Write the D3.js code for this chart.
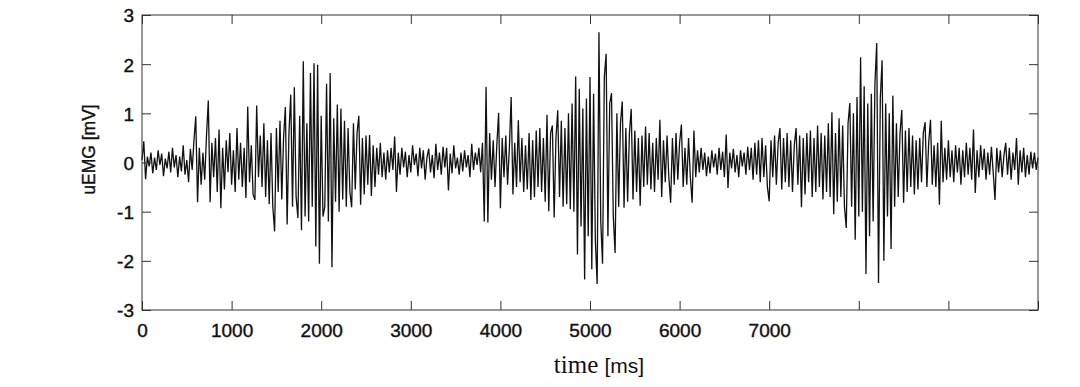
<!DOCTYPE html>
<html>
<head>
<meta charset="utf-8">
<script src="https://cdn.jsdelivr.net/npm/d3@7"></script>
<style>
body { margin:0; background:#fff; }
svg text { font-family: "Liberation Sans", Arial, sans-serif; fill:#111; }
</style>
</head>
<body>
<svg id="chart" width="1080" height="387"></svg>
<script>
// sampling step of the recording (ms)
var sampleStep = 20;
var xTicks = [0,1000,2000,3000,4000,5000,6000,7000,8000,9000,10000];
var xTickLabels = ["0","1000","2000","3000","4000","5000","6000","7000","","",""];
var yTicks = [-3,-2,-1,0,1,2,3];

// uEMG amplitude, mV, one value per 20 ms
var emg = [
 0.05,0.43,-0.34,0.12,-0.08,0.2,-0.22,0.1,-0.15,0.25,-0.05,0.18,-0.28,0.08,-0.12,0.22,-0.2,0.3,-0.1,0.15,
 -0.3,0.12,-0.18,0.35,-0.25,0.05,-0.4,0.28,-0.15,0.45,0.94,-0.81,0.3,-0.45,0.2,-0.35,0.55,1.26,-0.81,0.4,
 -0.3,0.5,-0.6,0.67,-0.93,0.3,-0.55,0.45,-0.2,0.6,-0.45,0.25,-0.6,0.7,-0.35,0.4,-0.5,0.3,-0.72,1.14,
 -0.4,0.35,-0.65,-0.76,1.16,-0.3,0.55,-0.5,0.8,-0.7,0.45,-0.85,0.6,-0.9,-1.4,0.7,-0.6,0.85,-0.75,0.5,
 1.13,-1.26,0.6,1.38,-0.9,1.53,-0.7,-1.13,0.95,-1.38,2.06,-1.1,0.8,-1.2,1.82,-0.9,2.02,-1.71,1.99,-2.06,
 0.95,-1.1,-0.9,1.6,-1.2,1.82,-2.13,0.9,-0.8,1.18,-1.0,1.1,-0.75,0.85,-0.9,0.7,-0.6,-0.91,0.8,-0.55,
 0.6,0.95,-0.86,0.5,-0.65,0.55,-0.45,0.56,-0.68,0.35,-0.5,0.3,-0.25,0.4,-0.3,0.2,-0.35,0.25,-0.2,0.3,
 -0.15,0.53,-0.6,0.2,-0.25,0.3,-0.1,0.22,-0.3,0.15,-0.2,0.35,-0.05,0.18,-0.28,0.3,-0.12,0.25,-0.35,0.1,
 0.28,-0.2,0.15,-0.32,0.38,-0.15,0.2,-0.25,0.32,-0.1,0.3,-0.57,0.18,-0.22,0.35,-0.12,0.1,-0.25,0.2,-0.18,
 0.25,-0.1,0.15,-0.3,0.38,-0.15,0.2,-0.05,0.3,-0.2,0.4,-1.2,1.54,-1.22,0.6,-0.35,0.45,-0.5,0.35,1.01,
 -0.93,0.5,-0.3,0.55,-0.45,0.3,1.33,-0.65,0.4,-0.5,0.86,-0.4,0.5,-0.6,0.35,-0.55,0.6,-0.76,0.45,-0.7,
 0.65,-0.5,0.7,-0.6,0.5,-0.8,0.97,-0.99,0.6,0.75,-1.12,0.5,1.06,-0.7,0.85,-0.9,0.7,-0.85,1.0,-0.95,
 1.2,-1.0,1.75,-1.87,1.5,-1.3,1.1,-2.38,1.3,-1.5,1.74,-2.17,1.4,-1.6,-2.47,2.65,-1.2,-2.06,1.74,2.21,
 -1.5,1.2,1.41,-1.1,-1.84,1.0,-0.9,0.8,1.24,-0.92,0.7,-0.8,0.6,1.09,-0.75,0.65,-0.6,0.5,-0.88,0.55,
 -0.5,0.73,-0.45,0.6,-0.55,0.4,-0.6,0.5,-0.35,0.87,-0.7,0.45,-0.4,0.55,-0.3,-0.82,0.5,-0.45,0.6,-0.35,
 0.4,0.77,-0.5,0.3,-0.45,0.5,-0.3,-0.82,0.65,-0.3,0.25,-0.2,0.3,-0.15,0.2,-0.28,0.12,-0.22,0.25,-0.1,
 0.18,-0.25,0.3,-0.15,0.22,-0.3,0.57,-0.52,0.2,-0.12,0.28,-0.2,0.15,-0.3,0.25,-0.08,0.2,-0.25,0.32,-0.15,
 0.3,-0.35,0.4,-0.25,0.45,-0.4,0.5,-0.3,0.35,-0.5,-0.79,0.45,-0.3,0.55,-0.45,0.4,0.7,-0.55,0.5,-0.4,
 0.6,-0.5,0.45,-0.6,0.35,0.7,-0.45,0.55,-0.91,0.5,-0.65,0.6,-0.4,0.65,-0.7,0.5,-0.6,0.75,-0.5,0.6,
 -0.75,0.55,-0.6,0.8,-0.7,1.02,-1.05,0.6,-0.8,0.9,-0.7,0.75,-0.9,-1.33,0.8,1.21,-0.9,1.0,-1.57,1.33,
 -1.1,2.14,-1.0,1.55,-2.27,1.2,-1.5,1.4,-1.2,1.6,2.43,-2.45,1.3,2.08,-2.0,1.2,-1.1,1.0,-1.76,1.36,
 -0.9,0.8,-0.7,0.6,1.07,-0.82,0.65,-0.6,0.7,-0.5,0.55,-0.65,0.45,-0.55,0.5,-0.4,0.6,0.82,-0.5,0.4,
 0.87,-0.45,0.35,-0.5,0.4,-0.86,0.85,-0.4,0.3,-0.35,0.45,-0.3,0.25,-0.4,0.35,-0.2,0.3,-0.45,0.25,-0.3,
 0.4,-0.25,0.3,-0.35,0.67,-0.62,0.25,-0.3,0.35,-0.15,0.28,-0.35,0.2,-0.25,0.32,-0.2,-0.76,0.3,-0.2,0.25,
 -0.3,0.15,0.4,-0.25,0.3,-0.35,0.2,-0.15,0.5,-0.45,0.25,-0.2,0.3,-0.3,0.15,-0.25,0.22,-0.12,0.2,-0.15,0.1
];

var margin = {top: 15, right: 42, bottom: 77, left: 142};
var width = 1080 - margin.left - margin.right;
var height = 387 - margin.top - margin.bottom;

var x = d3.scaleLinear().domain([0, 10000]).range([0, width]);
var y = d3.scaleLinear().domain([-3, 3]).range([height, 0]);

var svg = d3.select("svg#chart")
	.append("g")
	.attr("transform", "translate(" + margin.left + "," + margin.top + ")");

// signal
var line = d3.line()
	.x(function(d, i){ return x(i * sampleStep); })
	.y(function(d){ return y(d); });

svg.append("path")
	.datum(emg)
	.attr("fill", "none")
	.attr("stroke", "#111")
	.attr("stroke-width", 1.3)
	.attr("stroke-linejoin", "miter")
	.attr("d", line);

// frame
svg.append("rect")
	.attr("width", width)
	.attr("height", height)
	.attr("fill", "none")
	.attr("stroke", "#333")
	.attr("stroke-width", 1);

// axes, ticks pointing inward
var xAxis = d3.axisBottom(x).tickValues(xTicks).tickSize(-9).tickPadding(14)
	.tickFormat(function(d, i){ return xTickLabels[i]; });
var xTop = d3.axisTop(x).tickValues(xTicks).tickSize(-9).tickFormat("");
var yAxis = d3.axisLeft(y).tickValues(yTicks).tickSize(-9).tickPadding(8)
	.tickFormat(function(d){ return String(d); });
var yRight = d3.axisRight(y).tickValues(yTicks).tickSize(-9).tickFormat("");

var gx = svg.append("g").attr("transform", "translate(0," + height + ")").call(xAxis);
var gxt = svg.append("g").call(xTop);
var gy = svg.append("g").call(yAxis);
var gyr = svg.append("g").attr("transform", "translate(" + width + ",0)").call(yRight);

[gx, gxt, gy, gyr].forEach(function(g){
	g.select(".domain").remove();
	g.selectAll("line").attr("stroke", "#333");
});
gx.selectAll("text").style("font-size", "19px").attr("fill", "#111")
	.attr("stroke", "#111").attr("stroke-width", 0.4).attr("dy", "0.71em");
gy.selectAll("text").style("font-size", "19px").attr("fill", "#111")
	.attr("stroke", "#111").attr("stroke-width", 0.4).attr("dy", "0.36em");

// axis titles
var xt = svg.append("text")
	.attr("x", x(5000) + 9)
	.attr("y", height + 63)
	.attr("text-anchor", "middle");
xt.append("tspan").style("font-family", "'Liberation Serif', 'Times New Roman', serif").style("font-size", "25px").text("time ");
xt.append("tspan").style("font-family", "'Liberation Sans', Arial, sans-serif").style("font-size", "21px").text("[ms]");

svg.append("text")
	.attr("transform", "translate(" + (-47) + "," + (y(0) - 13) + ") rotate(-90)")
	.attr("text-anchor", "middle")
	.attr("stroke", "#111").attr("stroke-width", 0.4)
	.style("font-size", "17.5px")
	.text("uEMG [mV]");
</script>
</body>
</html>
